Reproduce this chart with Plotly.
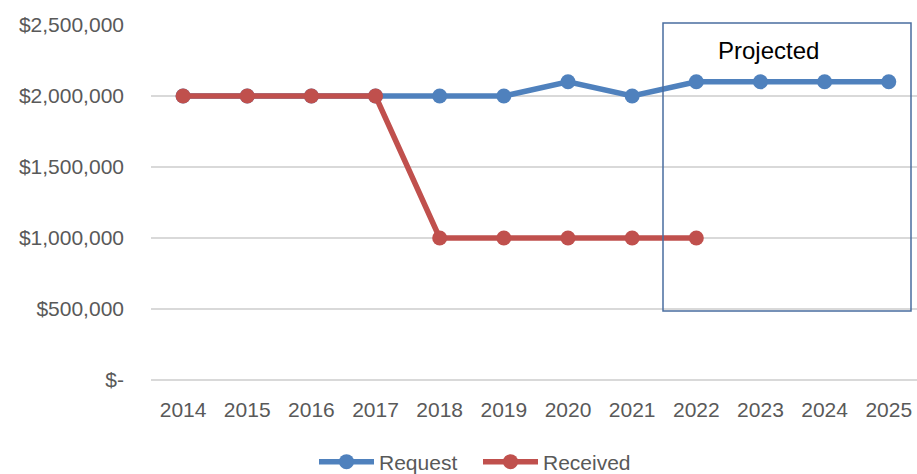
import plotly.graph_objects as go

years = ["2014", "2015", "2016", "2017", "2018", "2019", "2020", "2021", "2022", "2023", "2024", "2025"]
request = [2000000, 2000000, 2000000, 2000000, 2000000, 2000000, 2100000, 2000000, 2100000, 2100000, 2100000, 2100000]
received_years = ["2014", "2015", "2016", "2017", "2018", "2019", "2020", "2021", "2022"]
received = [2000000, 2000000, 2000000, 2000000, 1000000, 1000000, 1000000, 1000000, 1000000]
ytick_vals = [0, 500000, 1000000, 1500000, 2000000, 2500000]
ytick_text = ["$-", "$500,000", "$1,000,000", "$1,500,000", "$2,000,000", "$2,500,000"]

FONT = "Liberation Sans, Arial, sans-serif"
BLUE = "#4f81bd"
RED = "#c0504d"
W, H = 917, 474
# plot area in pixels: x 151..917, y 25..380
L, T = 151, 25
R = W - 917
B = H - 380
pw, ph = W - L - R, H - T - B


def px(xs):
    return (xs - L) / pw


def py(ys):
    return (H - B - ys) / ph


fig = go.Figure()
fig.add_trace(go.Scatter(x=years, y=request, name="Request", mode="lines+markers",
                         line=dict(color=BLUE, width=5.5), marker=dict(color=BLUE, size=15)))
fig.add_trace(go.Scatter(x=received_years, y=received, name="Received", mode="lines+markers",
                         line=dict(color=RED, width=5.5), marker=dict(color=RED, size=15)))

fig.add_shape(type="rect", xref="paper", yref="paper",
              x0=px(663), x1=px(911), y0=py(311), y1=py(23),
              line=dict(color="#4a6ea0", width=1.5), fillcolor="rgba(0,0,0,0)", layer="above")
fig.add_annotation(x=px(768), y=py(50), xref="paper", yref="paper",
                   xanchor="center", yanchor="middle",
                   text="Projected", showarrow=False,
                   font=dict(family=FONT, size=24, color="#000000"))

fig.update_layout(
    width=W, height=H,
    margin=dict(l=L, r=R, t=T, b=B, autoexpand=False),
    paper_bgcolor="white", plot_bgcolor="white",
    font=dict(family=FONT, size=21, color="#595959"),
    showlegend=True,
    legend=dict(orientation="h", x=px(478), y=py(462),
                xanchor="center", yanchor="middle",
                font=dict(family=FONT, size=21, color="#595959"),
                itemwidth=55, entrywidth=94, entrywidthmode="pixels",
                bgcolor="rgba(0,0,0,0)"),
    xaxis=dict(type="category", categoryorder="array", categoryarray=years,
               range=[-0.5, 11.44], showgrid=False, showline=False, ticks="",
               automargin=False, ticklabelstandoff=15,
               tickfont=dict(family=FONT, size=21, color="#595959")),
    yaxis=dict(range=[0, 2500000], tickvals=ytick_vals, ticktext=ytick_text,
               showgrid=True, gridcolor="#d9d9d9", gridwidth=1.5,
               zeroline=True, zerolinecolor="#d9d9d9", zerolinewidth=1.5,
               showline=False, ticks="", ticklabelstandoff=26, automargin=False,
               tickfont=dict(family=FONT, size=21, color="#595959")),
)

fig.write_html("out.html", config={"displayModeBar": False},
               post_script="document.body.style.margin='0';document.body.style.overflow='hidden';")
